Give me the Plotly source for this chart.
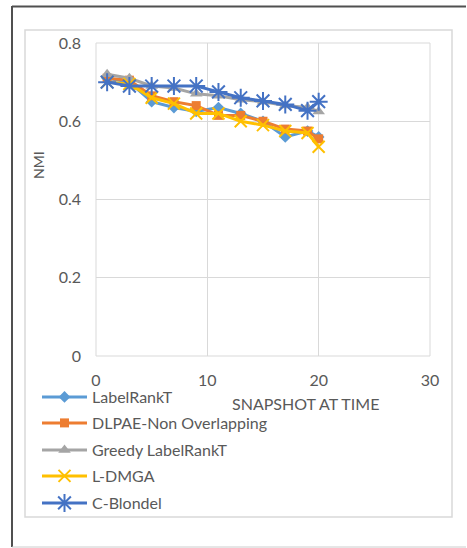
import plotly.graph_objects as go

snapshots = [1, 3, 5, 7, 9, 11, 13, 15, 17, 19, 20]
labelrankt = [0.71, 0.70, 0.65, 0.635, 0.625, 0.635, 0.62, 0.60, 0.56, 0.575, 0.56]
dlpae = [0.71, 0.705, 0.665, 0.65, 0.64, 0.615, 0.615, 0.60, 0.58, 0.575, 0.555]
greedy = [0.72, 0.71, 0.69, 0.685, 0.67, 0.665, 0.655, 0.65, 0.64, 0.635, 0.625]
ldmga = [0.70, 0.695, 0.66, 0.645, 0.62, 0.62, 0.60, 0.59, 0.575, 0.57, 0.535]
cblondel = [0.70, 0.69, 0.69, 0.69, 0.69, 0.675, 0.66, 0.652, 0.643, 0.627, 0.65]

series_names = ["LabelRankT", "DLPAE-Non Overlapping", "Greedy LabelRankT", "L-DMGA", "C-Blondel"]
series_values = [labelrankt, dlpae, greedy, ldmga, cblondel]
x_ticks = [0, 10, 20, 30]
y_ticks = [0, 0.2, 0.4, 0.6, 0.8]

colors = ["#5B9BD5", "#ED7D31", "#A5A5A5", "#FFC000", "#4472C4"]
symbols = ["diamond", "square", "triangle-up", "x-thin-open", "asterisk-open"]
msizes = [9, 9, 11, 12, 15]

W, H = 467, 548
PX0, PX1, PY0, PY1 = 96, 430, 43, 356


def px(x):
    return (x - PX0) / (PX1 - PX0)


def py(y):
    return (PY1 - y) / (PY1 - PY0)


FONT = "Lato"
GREY = "#595959"

fig = go.Figure()
legend_ys = [397, 423, 450, 476, 503]
for i, (name, vals) in enumerate(zip(series_names, series_values)):
    lg = "legend" if i == 0 else f"legend{i+1}"
    marker = dict(symbol=symbols[i], size=msizes[i], color=colors[i])
    if "open" in symbols[i]:
        marker["line"] = dict(color=colors[i], width=2)
    fig.add_trace(go.Scatter(
        x=snapshots, y=vals, name=name, mode="lines+markers",
        line=dict(color=colors[i], width=3),
        marker=marker, legend=lg,
    ))

layout_legends = {}
for i in range(5):
    key = "legend" if i == 0 else f"legend{i+1}"
    layout_legends[key] = dict(
        x=px(37), y=py(legend_ys[i]), xanchor="left", yanchor="middle",
        bgcolor="rgba(0,0,0,0)", borderwidth=0,
        font=dict(family=FONT, size=16, color=GREY),
        itemwidth=45, tracegroupgap=0,
    )

fig.update_layout(
    width=W, height=H,
    margin=dict(l=PX0, r=W - PX1, t=PY0, b=H - PY1, pad=0),
    paper_bgcolor="white", plot_bgcolor="white",
    showlegend=True,
    **layout_legends,
)

fig.update_xaxes(
    range=[0, 30], tickvals=x_ticks, ticktext=[str(t) for t in x_ticks],
    showgrid=True, gridcolor="#D9D9D9", gridwidth=1,
    zeroline=False, showline=False, ticks="",
    tickfont=dict(family=FONT, size=16, color=GREY),
    ticklabelstandoff=13,
)
fig.update_yaxes(
    range=[0, 0.8], tickvals=y_ticks, ticktext=["0", "0.2", "0.4", "0.6", "0.8"],
    showgrid=True, gridcolor="#D9D9D9", gridwidth=1,
    zeroline=False, showline=False, ticks="",
    tickfont=dict(family=FONT, size=16, color=GREY),
    ticklabelstandoff=14,
)

shapes = [
    dict(type="rect", xref="paper", yref="paper", x0=0, x1=1, y0=0, y1=1,
         line=dict(color="#D9D9D9", width=1), layer="below"),
    dict(type="rect", xref="paper", yref="paper", x0=px(25), x1=px(452), y0=py(517), y1=py(30),
         line=dict(color="#D9D9D9", width=1.5), layer="below"),
    dict(type="line", xref="paper", yref="paper", x0=px(12), x1=px(12), y0=py(547), y1=py(6),
         line=dict(color="#505050", width=2)),
    dict(type="line", xref="paper", yref="paper", x0=px(12), x1=px(466), y0=py(6.5), y1=py(6.5),
         line=dict(color="#505050", width=2)),
    dict(type="line", xref="paper", yref="paper", x0=px(12), x1=px(466), y0=py(547), y1=py(547),
         line=dict(color="#CCCCCC", width=1)),
]
fig.update_layout(shapes=shapes)

fig.add_annotation(
    text="SNAPSHOT AT TIME", xref="paper", yref="paper",
    x=px(305), y=py(403), xanchor="center", yanchor="middle", showarrow=False,
    font=dict(family=FONT, size=16, color=GREY),
)
fig.add_annotation(
    text="NMI", xref="paper", yref="paper",
    x=px(38), y=py(165), xanchor="center", yanchor="middle", showarrow=False,
    textangle=-90, font=dict(family=FONT, size=14, color=GREY),
)

fig.write_html(
    "out.html",
    config={"displayModeBar": False},
    post_script="document.body.style.margin='0';document.body.style.overflow='hidden';",
)
